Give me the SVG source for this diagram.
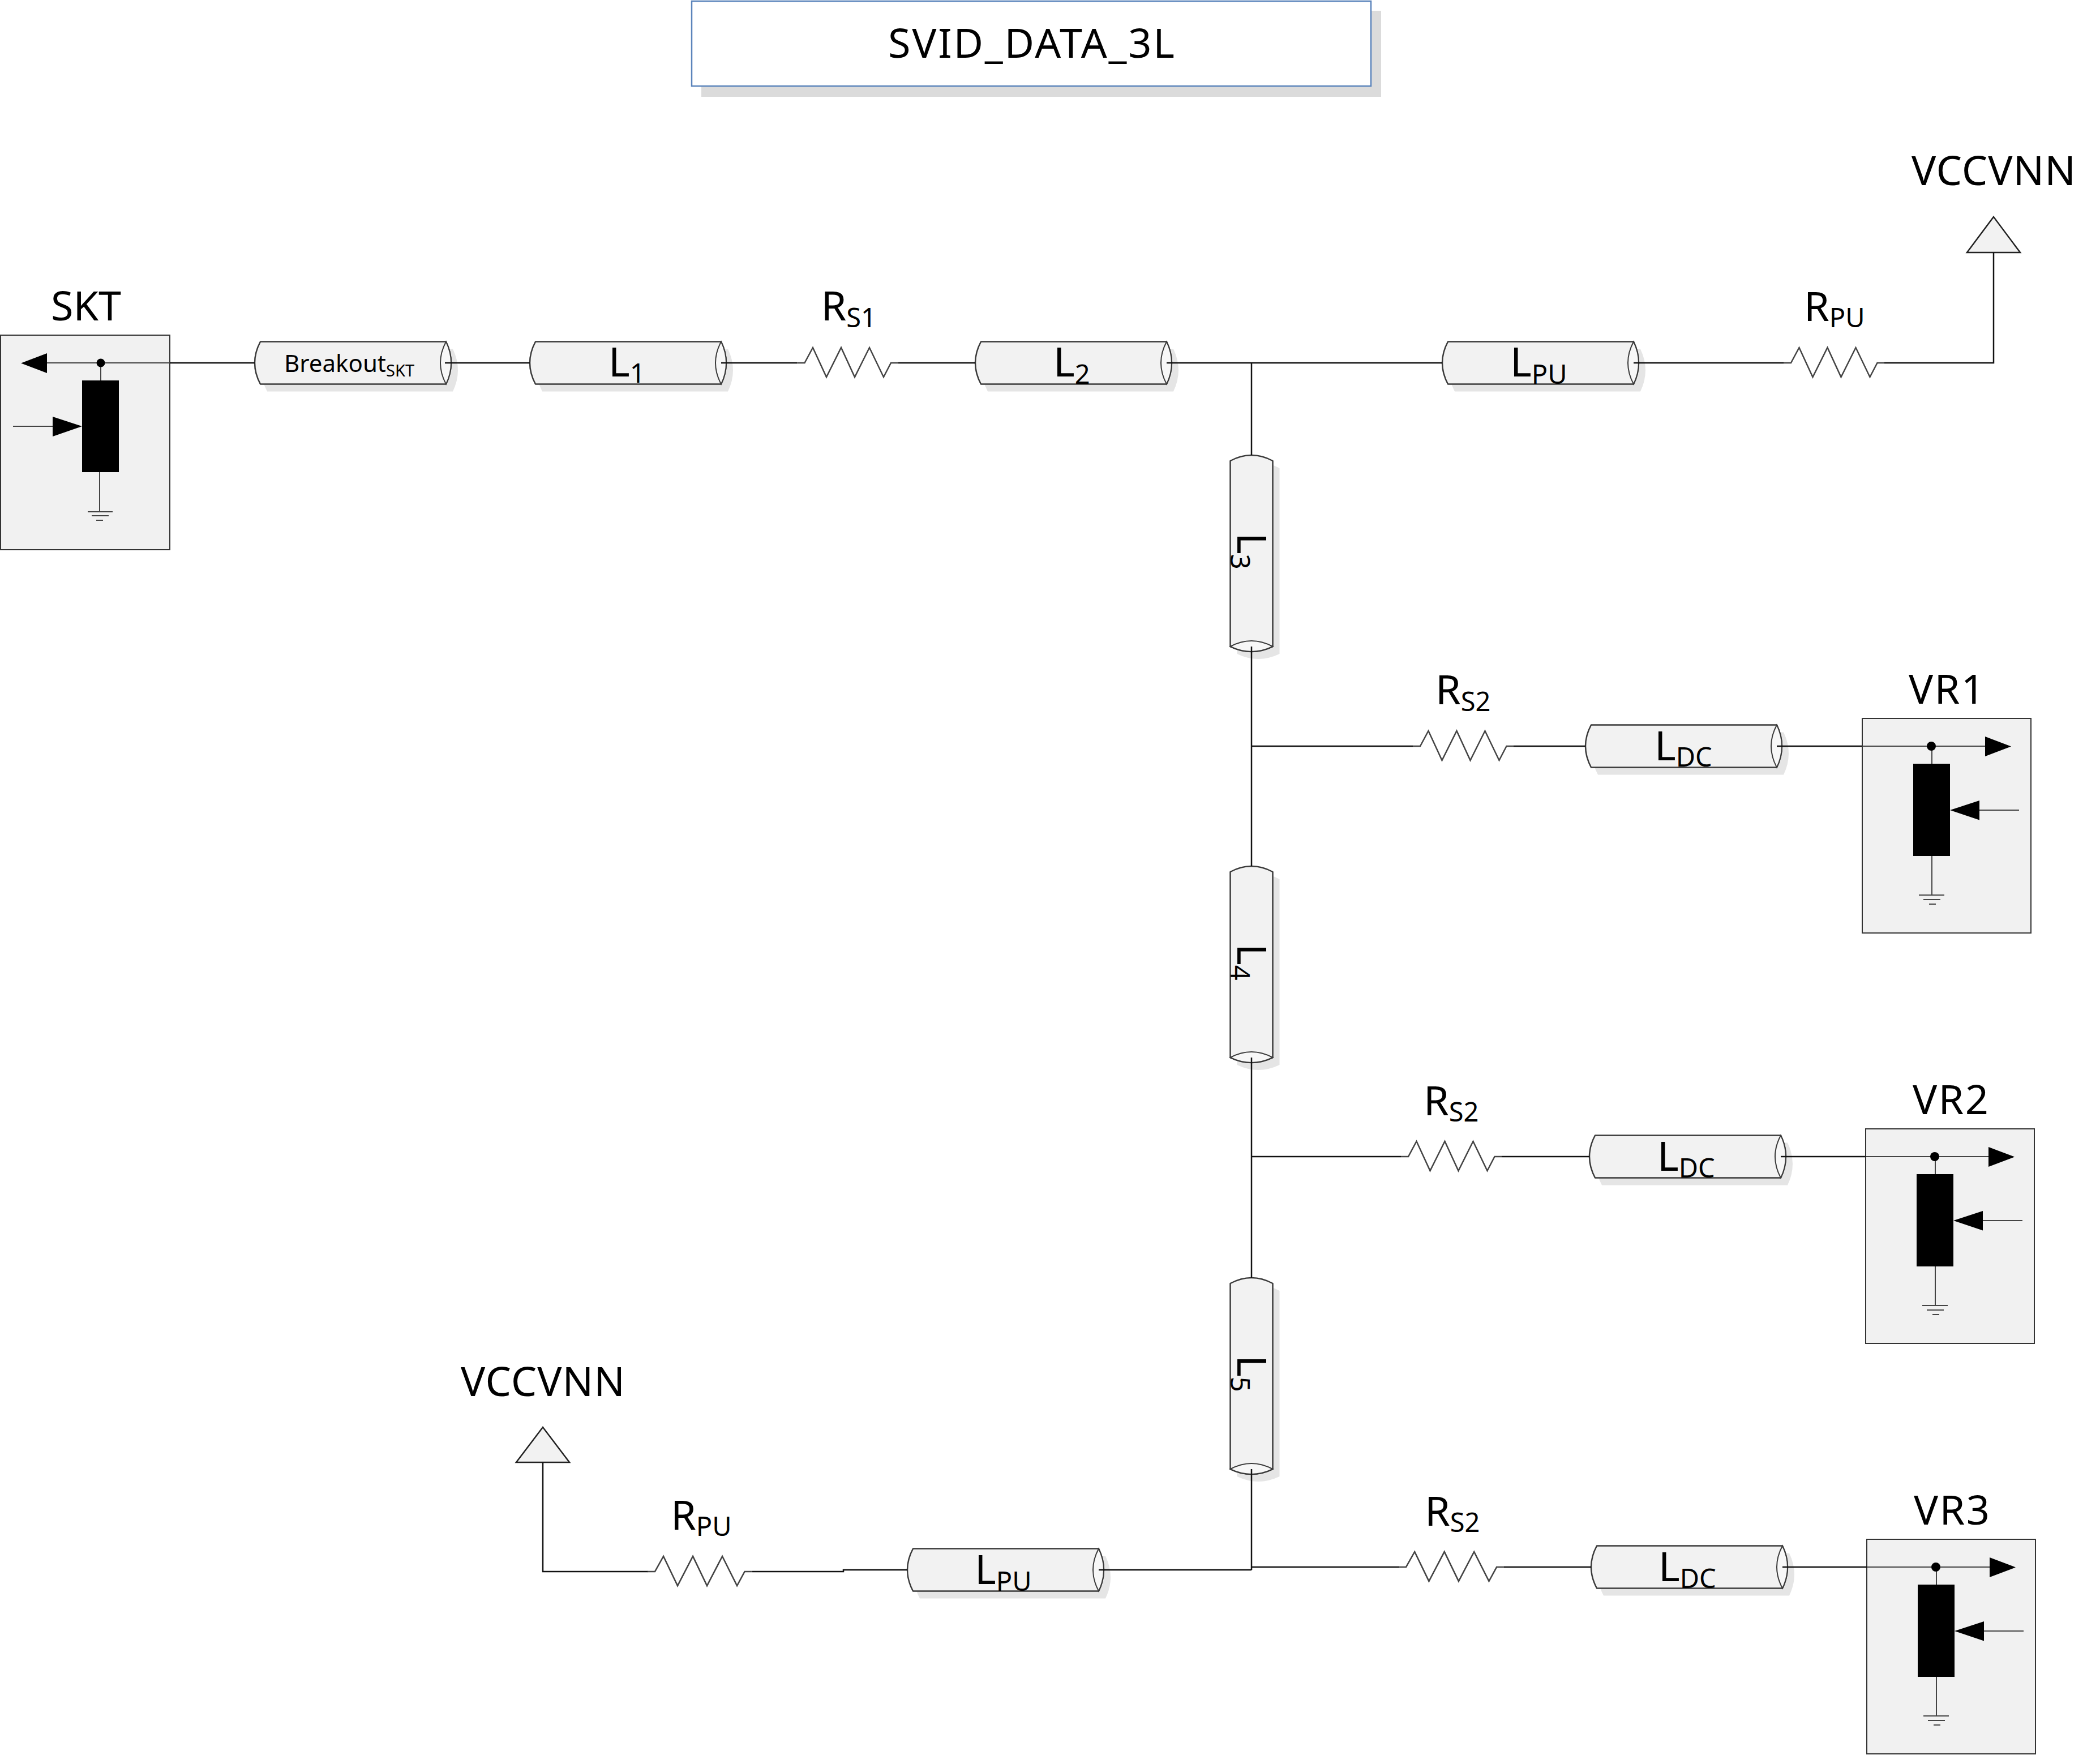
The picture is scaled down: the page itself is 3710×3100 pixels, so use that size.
<svg xmlns="http://www.w3.org/2000/svg" xmlns:xlink="http://www.w3.org/1999/xlink" width="3710" height="3100" viewBox="0 0 3710 3100">
<style>
text{font-family:"Noto Sans","Open Sans","Liberation Sans",sans-serif;fill:#000}
.t{font-size:72px}
.s{font-size:47px}
.b{font-size:42px}
.bs{font-size:29px}
.cyl{fill:#f2f2f2;stroke:#3a3a3a;stroke-width:2.5;stroke-linejoin:round}
.cap{fill:#f7f7f7;stroke:#3a3a3a;stroke-width:2}
.shadow{fill:#e5e5e5;stroke:none}
.res{fill:none;stroke:#444;stroke-width:2.5;stroke-linejoin:miter}
.wire{fill:none;stroke:#111;stroke-width:2.5}
.thin{fill:none;stroke:#444;stroke-width:2}
.box{fill:#f1f1f1;stroke:#333;stroke-width:2}
.rail{fill:#f2f2f2;stroke:#222;stroke-width:2.5}
</style>
<defs>
<path id="cylOutline" d="M10,-37.5 Q-10,0 10,37.5 L338,37.5 Q356,0 338,-37.5 Z"/>
<g id="cylBody">
<use href="#cylOutline" class="cyl"/>
<path class="cap" d="M338,-37.5 Q318,0 338,37.5 Q356,0 338,-37.5 Z"/>
</g>
<path id="resistor" class="res" d="M-13,0 L0,0 L14.5,-27 L38.5,25 L64.5,-27 L88.5,25 L114.5,-27 L139.5,25 L152.5,0 L165,0"/>
<g id="vrBody">
<rect class="box" x="0" y="0" width="298" height="379"/>
<path class="thin" d="M0,49 H217 M123,49 V80 M207,162 H277 M123,243 V312 M100,312 H145 M108,320 H138 M118,328 H130"/>
<circle cx="122" cy="49" r="8" fill="#000"/>
<polygon points="217,32 263,49.500 217,67" fill="#000"/>
<rect x="90" y="80" width="65" height="163" fill="#000"/>
<polygon points="155,162 207,145 207,179.500" fill="#000"/>
</g>
</defs>

<g id="title">
<rect x="1239" y="19" width="1201" height="152" fill="#dbdbdb"/>
<rect x="1222" y="2" width="1200" height="150" fill="#fff" stroke="#5b84bb" stroke-width="2.5"/>
<text class="t" x="1569" y="102" textLength="506" lengthAdjust="spacing">SVID_DATA_3L</text>
</g>

<g id="skt">
<text class="t" x="90" y="566">SKT</text>
<rect class="box" x="1" y="592" width="299" height="379"/>
<path class="thin" d="M83,641 H300 M178,641 V672 M23,753 H93 M176,834 V904 M155,904 H199 M162,911 H192 M170,919 H182"/>
<circle cx="178" cy="641" r="7.500" fill="#000"/>
<polygon points="37,641.500 83,624 83,659" fill="#000"/>
<rect x="145" y="672" width="65" height="162" fill="#000"/>
<polygon points="145,753 93,736 93,771" fill="#000"/>
</g>

<g id="breakout" transform="translate(450,641)">
<use href="#cylOutline" class="shadow" x="12" y="13"/>
<use href="#cylBody"/>
<text class="b" x="52" y="16">Breakout<tspan class="bs" dy="8">SKT</tspan></text>
</g>
<g id="l1" transform="translate(936,641)">
<use href="#cylOutline" class="shadow" x="12" y="13"/>
<use href="#cylBody"/>
<text class="t" x="139" y="24">L<tspan class="s" dy="11">1</tspan></text>
</g>
<g id="rs1" transform="translate(1421.500,641)">
<use href="#resistor"/>
<text class="t" x="29" y="-75">R<tspan class="s" dy="12">S1</tspan></text>
</g>
<g id="l2" transform="translate(1723,641)">
<use href="#cylOutline" class="shadow" x="12" y="13"/>
<use href="#cylBody"/>
<text class="t" x="138" y="24">L<tspan class="s" dy="13">2</tspan></text>
</g>
<g id="lpu-top" transform="translate(2548,641)">
<use href="#cylOutline" class="shadow" x="12" y="13"/>
<use href="#cylBody"/>
<text class="t" x="120" y="24">L<tspan class="s" dy="13">PU</tspan></text>
</g>
<g id="rpu-top" transform="translate(3164,641)">
<use href="#resistor"/>
<text class="t" x="23" y="-74">R<tspan class="s" dy="11">PU</tspan></text>
</g>
<g id="vccvnn-top">
<text class="t" x="3377" y="327" textLength="290" lengthAdjust="spacing">VCCVNN</text>
<polygon class="rail" points="3522,383 3475,446 3569,446"/>
</g>

<g id="l3">
<use href="#cylOutline" class="shadow" transform="translate(2223,817) rotate(90)"/>
<use href="#cylBody" transform="translate(2211,804) rotate(90)"/>
<text class="t" transform="translate(2186,941) rotate(90)">L<tspan class="s" dy="12">3</tspan></text>
</g>
<g id="l4">
<use href="#cylOutline" class="shadow" transform="translate(2223,1543) rotate(90)"/>
<use href="#cylBody" transform="translate(2211,1530) rotate(90)"/>
<text class="t" transform="translate(2186,1667) rotate(90)">L<tspan class="s" dy="12">4</tspan></text>
</g>
<g id="l5">
<use href="#cylOutline" class="shadow" transform="translate(2223,2270) rotate(90)"/>
<use href="#cylBody" transform="translate(2211,2257) rotate(90)"/>
<text class="t" transform="translate(2186,2394) rotate(90)">L<tspan class="s" dy="12">5</tspan></text>
</g>

<g id="rs2-1" transform="translate(2509,1318)">
<use href="#resistor"/>
<text class="t" x="27" y="-74">R<tspan class="s" dy="12">S2</tspan></text>
</g>
<g id="ldc-1" transform="translate(2801,1318)">
<use href="#cylOutline" class="shadow" x="12" y="13"/>
<use href="#cylBody"/>
<text class="t" x="122" y="25">L<tspan class="s" dy="11">DC</tspan></text>
</g>
<g id="vr1">
<text class="t" x="3372" y="1243" textLength="134" lengthAdjust="spacing">VR1</text>
<use href="#vrBody" x="3290" y="1269"/>
</g>

<g id="rs2-2" transform="translate(2488,2043)">
<use href="#resistor"/>
<text class="t" x="27" y="-73">R<tspan class="s" dy="11">S2</tspan></text>
</g>
<g id="ldc-2" transform="translate(2808,2043)">
<use href="#cylOutline" class="shadow" x="12" y="13"/>
<use href="#cylBody"/>
<text class="t" x="120" y="25">L<tspan class="s" dy="12">DC</tspan></text>
</g>
<g id="vr2">
<text class="t" x="3379" y="1968" textLength="134" lengthAdjust="spacing">VR2</text>
<use href="#vrBody" x="3296" y="1994"/>
</g>

<g id="rs2-3">
<use href="#resistor" transform="translate(2484,2768) scale(1.05,1)"/>
<text class="t" x="2517" y="2695">R<tspan class="s" dy="11">S2</tspan></text>
</g>
<g id="ldc-3" transform="translate(2811,2768)">
<use href="#cylOutline" class="shadow" x="12" y="13"/>
<use href="#cylBody"/>
<text class="t" x="119" y="25">L<tspan class="s" dy="12">DC</tspan></text>
</g>
<g id="vr3">
<text class="t" x="3381" y="2693" textLength="134" lengthAdjust="spacing">VR3</text>
<use href="#vrBody" x="3298" y="2719"/>
</g>

<g id="lpu-bottom" transform="translate(1603,2773)">
<use href="#cylOutline" class="shadow" x="12" y="13"/>
<use href="#cylBody"/>
<text class="t" x="119" y="25">L<tspan class="s" dy="12">PU</tspan></text>
</g>
<g id="rpu-bottom">
<use href="#resistor" transform="translate(1157,2776) scale(1.04,1)"/>
<text class="t" x="1185" y="2702">R<tspan class="s" dy="11">PU</tspan></text>
</g>
<g id="vccvnn-bottom">
<text class="t" x="814" y="2466" textLength="290" lengthAdjust="spacing">VCCVNN</text>
<polygon class="rail" points="959,2521 912,2583 1006,2583"/>
</g>

<g id="connectors">
<path class="wire" d="M300,641 H450 M786,641 H936 M1274,641 H1408.500 M1586.500,641 H1723 M2061,641 H2548 M2886,641 H3151 M3329,641 H3522 V446"/>
<path class="wire" d="M2211,641 V804 M2211,1142 V1530 M2211,1868 V2257 M2211,2595 V2773"/>
<path class="wire" d="M2211,1318 H2496 M2674,1318 H2801 M3139,1318 H3290"/>
<path class="wire" d="M2211,2043 H2475 M2653,2043 H2808 M3146,2043 H3296"/>
<path class="wire" d="M2211,2768 H2471 M2657,2768 H2811 M3149,2768 H3298"/>
<path class="wire" d="M2211,2773 H1941 M1603,2773 H1490 V2776 H1329 M1144,2776 H959 V2583"/>
</g>
</svg>
